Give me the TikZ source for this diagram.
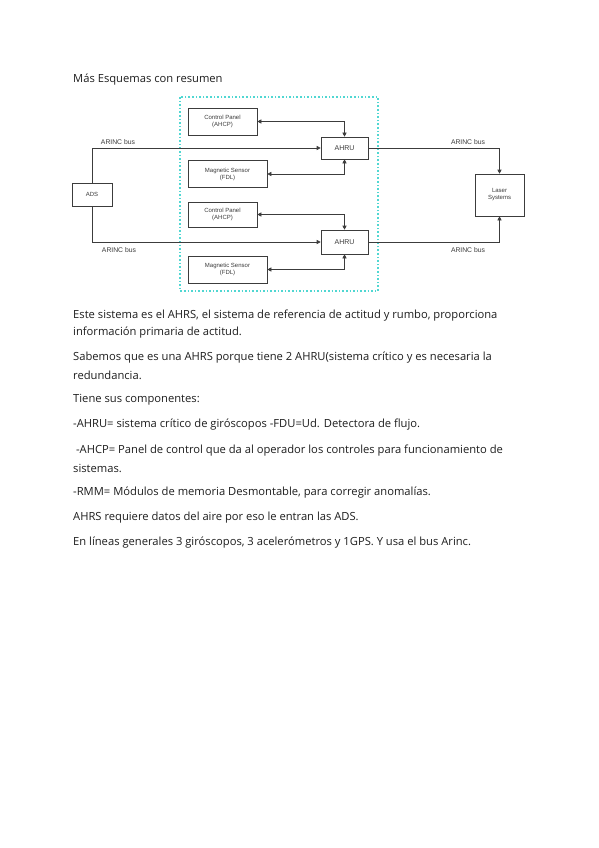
\documentclass[tikz,border=0pt]{standalone}
\usepackage{fontspec}
\setmainfont{Open Sans}
\newfontfamily\diagfont{Liberation Sans}
\usetikzlibrary{arrows.meta}
\definecolor{txt}{RGB}{30,30,30}
\definecolor{ln}{RGB}{60,60,60}
\definecolor{aqua}{RGB}{80,215,210}
\tikzset{
  blk/.style={draw=ln, line width=0.6pt, fill=white, align=center, inner sep=0pt,
    font=\diagfont\fontsize{6}{7}\selectfont, text=ln},
  conn/.style={draw=ln, line width=0.6pt, -{Triangle[length=4pt,width=4pt]}},
  bconn/.style={draw=ln, line width=0.6pt, {Triangle[length=4pt,width=4pt]}-{Triangle[length=4pt,width=4pt]}},
  lbl/.style={font=\diagfont\fontsize{6.8}{7}\selectfont, text=ln, inner sep=0pt},
  para/.style={anchor=west, inner sep=0pt, text=txt, font=\fontsize{11.2}{13}\selectfont}
}
\begin{document}
\begin{tikzpicture}[x=1pt,y=-1pt]
\useasboundingbox[fill=white] (0,0) rectangle (599,848);
% title
\node[para] (title) at (73,80) {Más Esquemas con resumen};
% dashed box
\draw[aqua, line width=1.6pt, dotted] (180,97) rectangle (378,291);
% blocks
\node[blk, minimum width=69pt, minimum height=27pt] (cp1) at (222.5,121.5) {Control Panel\\(AHCP)};
\node[blk, minimum width=47pt, minimum height=22pt, font=\diagfont\fontsize{7}{8}\selectfont] (ahru1) at (344.5,148) {AHRU};
\node[blk, minimum width=79pt, minimum height=27pt] (ms1) at (227.5,174) {Magnetic Sensor\\(FDL)};
\node[blk, minimum width=69pt, minimum height=25pt] (cp2) at (222.5,214.5) {Control Panel\\(AHCP)};
\node[blk, minimum width=47pt, minimum height=24pt, font=\diagfont\fontsize{7}{8}\selectfont] (ahru2) at (344.5,242) {AHRU};
\node[blk, minimum width=79pt, minimum height=27pt] (ms2) at (227.5,269.5) {Magnetic Sensor\\(FDL)};
\node[blk, minimum width=40pt, minimum height=23pt] (ads) at (92,194.5) {ADS};
\node[blk, minimum width=49pt, minimum height=42pt] (laser) at (499.5,195) {Laser\\Systems};
% connectors
\draw[bconn] (cp1.east) -| (ahru1.north);
\draw[bconn] (ms1.east) -| (ahru1.south);
\draw[bconn] (cp2.east) -| (ahru2.north);
\draw[bconn] (ms2.east) -| (ahru2.south);
\draw[conn] (ads.north) |- (ahru1.west);
\draw[conn] (ads.south) |- (ahru2.west);
\draw[conn] (ahru1.east) -| (laser.north);
\draw[conn] (ahru2.east) -| (laser.south);
% bus labels
\node[lbl] (l1) at (118,142) {ARINC bus};
\node[lbl] (l2) at (468,142) {ARINC bus};
\node[lbl] (l3) at (119,250) {ARINC bus};
\node[lbl] (l4) at (468,250) {ARINC bus};
% text
\node[para] (p1) at (73,316) {Este sistema es el AHRS, el sistema de referencia de actitud y rumbo, proporciona};
\node[para] (p2) at (73,333) {información primaria de actitud.};
\node[para] (p3) at (73,358) {Sabemos que es una AHRS porque tiene 2 AHRU(sistema crítico y es necesaria la};
\node[para] (p4) at (73,375) {redundancia.};
\node[para] (p5) at (73,400) {Tiene sus componentes:};
\node[para] (p6) at (73,425) {-AHRU= sistema crítico de giróscopos -FDU=Ud. Detectora de flujo.};
\node[para] (p7) at (73,451) {\ -AHCP= Panel de control que da al operador los controles para funcionamiento de};
\node[para] (p8) at (73,468) {sistemas.};
\node[para] (p9) at (73,493) {-RMM= Módulos de memoria Desmontable, para corregir anomalías.};
\node[para] (p10) at (73,518) {AHRS requiere datos del aire por eso le entran las ADS.};
\node[para] (p11) at (73,543) {En líneas generales 3 giróscopos, 3 acelerómetros y 1GPS. Y usa el bus Arinc.};
\end{tikzpicture}
\end{document}
